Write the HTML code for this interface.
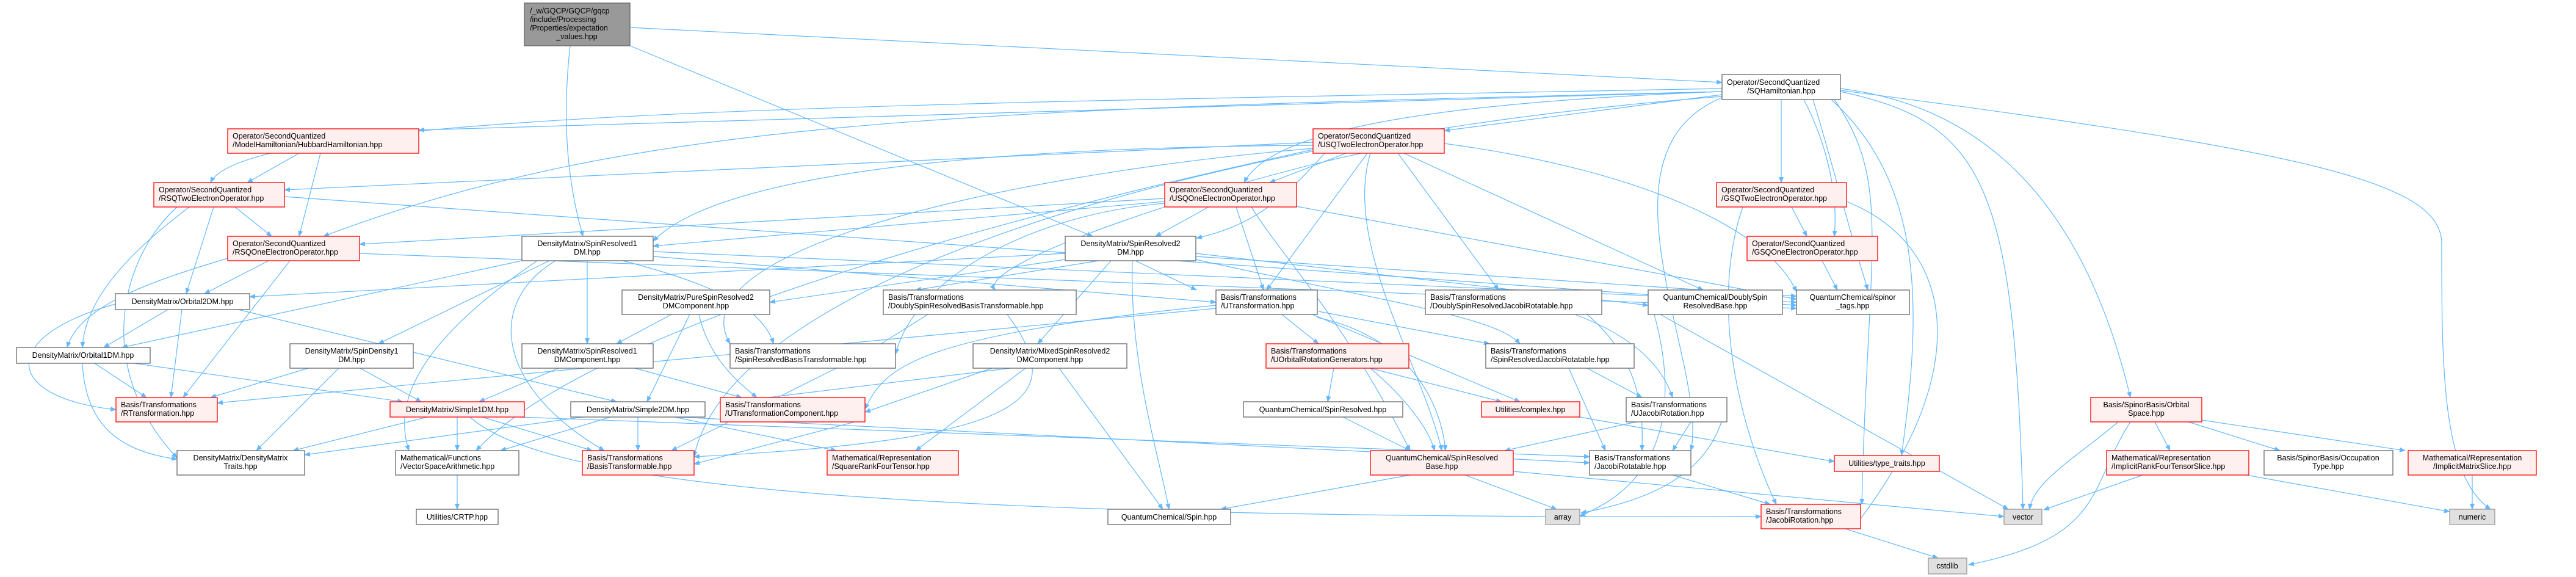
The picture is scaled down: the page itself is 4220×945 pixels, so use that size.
<!DOCTYPE html>
<html><head><meta charset="utf-8"><style>
html,body{margin:0;padding:0;background:#fff;}
svg{display:block;}
text{font-family:"Liberation Sans",sans-serif;font-size:12.5px;fill:#000;}
.n{fill:#fff;stroke:#666;stroke-width:1.3;}
.r{fill:#fff0f0;stroke:#f00;stroke-width:1.3;}
.g{fill:#e0e0e0;stroke:#999;stroke-width:1.3;}
.e{fill:none;stroke:#63b8ff;stroke-width:1.2;marker-end:url(#a);}
</style></head><body>
<svg width="4220" height="945" viewBox="0 0 4220 945" xmlns="http://www.w3.org/2000/svg">
<defs><marker id="a" markerWidth="10" markerHeight="8" refX="9" refY="4" orient="auto" markerUnits="userSpaceOnUse"><path d="M0,0 L10,4 L0,8 z" fill="#63b8ff"/></marker></defs>
<g>
<path class="e" d="M1032,45 L2821,135"/>
<path class="e" d="M934,75 C920,200 930,300 955,387"/>
<path class="e" d="M1032,75 L1790,387"/>
<path class="e" d="M2821,150 L686,213"/>
<path class="e" d="M2821,145 C1500,170 400,180 345,299"/>
<path class="e" d="M2821,150 C1600,180 1050,190 530,387"/>
<path class="e" d="M2821,155 L2366,214"/>
<path class="e" d="M2821,150 C2300,170 2080,220 2038,299"/>
<path class="e" d="M2918,163 L2918,299"/>
<path class="e" d="M2955,163 C3000,250 3010,330 3005,387"/>
<path class="e" d="M2970,163 C3000,260 3030,380 3060,475"/>
<path class="e" d="M3015,145 C3300,180 3430,400 3490,651"/>
<path class="e" d="M3000,163 C3150,300 3150,500 3115,746"/>
<path class="e" d="M3005,163 C3100,300 3060,400 3050,826"/>
<path class="e" d="M3015,150 C3250,200 3300,300 3314,834"/>
<path class="e" d="M3015,148 C3800,250 4000,300 4000,400 C4000,600 4000,780 4080,834"/>
<path class="e" d="M2821,160 C2600,250 2800,600 2770,738"/>
<path class="e" d="M2821,158 C2000,220 1200,450 1137,748"/>
<path class="e" d="M490,251 L405,299"/>
<path class="e" d="M525,251 L490,387"/>
<path class="e" d="M385,339 L445,387"/>
<path class="e" d="M350,339 L305,481"/>
<path class="e" d="M310,339 C230,400 140,480 135,569"/>
<path class="e" d="M290,339 C200,420 150,600 290,750"/>
<path class="e" d="M466,322 L2943,500"/>
<path class="e" d="M440,427 L335,481"/>
<path class="e" d="M373,423 C250,460 130,500 110,569"/>
<path class="e" d="M475,427 L300,651"/>
<path class="e" d="M589,415 L2943,505"/>
<path class="e" d="M855,427 L200,569"/>
<path class="e" d="M900,427 L620,563"/>
<path class="e" d="M962,427 L962,563"/>
<path class="e" d="M1020,427 C1150,460 1250,500 1267,563"/>
<path class="e" d="M1070,420 L1992,495"/>
<path class="e" d="M880,427 C700,550 640,650 670,738"/>
<path class="e" d="M910,427 C790,500 820,640 990,738"/>
<path class="e" d="M1070,412 L2943,495"/>
<path class="e" d="M2151,238 C1800,240 1200,260 1070,395"/>
<path class="e" d="M2205,251 L2080,299"/>
<path class="e" d="M2170,251 C2100,330 2050,370 1960,390"/>
<path class="e" d="M2151,233 L466,311"/>
<path class="e" d="M2240,251 L2075,475"/>
<path class="e" d="M2230,251 C2000,300 1600,430 1630,475"/>
<path class="e" d="M2290,251 L2455,475"/>
<path class="e" d="M2300,251 L2790,475"/>
<path class="e" d="M2366,235 C2700,280 2900,380 2943,478"/>
<path class="e" d="M2245,251 C2200,400 2330,600 2362,738"/>
<path class="e" d="M2151,243 C1700,280 1100,400 1196,563"/>
<path class="e" d="M2151,245 C1900,300 1000,500 780,738"/>
<path class="e" d="M1908,330 L1070,403"/>
<path class="e" d="M1908,325 L589,400"/>
<path class="e" d="M1980,339 L1893,387"/>
<path class="e" d="M2025,339 L2070,475"/>
<path class="e" d="M2050,339 C2100,420 2200,520 2310,738"/>
<path class="e" d="M2124,338 L2943,490"/>
<path class="e" d="M1908,333 C1700,350 1500,450 1467,580"/>
<path class="e" d="M1800,427 L1500,475"/>
<path class="e" d="M1860,427 L1960,475"/>
<path class="e" d="M1745,415 L409,486"/>
<path class="e" d="M1820,427 L1700,563"/>
<path class="e" d="M1745,425 L1261,495"/>
<path class="e" d="M1855,427 C1850,600 1900,750 1915,834"/>
<path class="e" d="M1959,415 L2700,500"/>
<path class="e" d="M1959,420 L2943,485"/>
<path class="e" d="M1959,425 C2300,500 2450,520 2490,563"/>
<path class="e" d="M2855,339 C2800,500 2850,700 2910,826"/>
<path class="e" d="M2935,339 L2960,387"/>
<path class="e" d="M3025,330 C3200,400 3240,600 3040,860"/>
<path class="e" d="M2985,427 L3010,475"/>
<path class="e" d="M275,507 L170,569"/>
<path class="e" d="M298,507 L280,651"/>
<path class="e" d="M189,498 C0,550 0,650 190,671"/>
<path class="e" d="M390,507 L1010,658"/>
<path class="e" d="M1100,515 L1010,563"/>
<path class="e" d="M1130,515 L1060,658"/>
<path class="e" d="M1145,515 C1160,580 1200,620 1240,651"/>
<path class="e" d="M2100,515 L2160,563"/>
<path class="e" d="M2160,510 L2440,563"/>
<path class="e" d="M1992,505 L356,660"/>
<path class="e" d="M1992,500 C1500,550 1450,600 1417,670"/>
<path class="e" d="M2158,520 C2300,550 2360,650 2368,738"/>
<path class="e" d="M2150,515 L2490,658"/>
<path class="e" d="M1520,515 L1400,590"/>
<path class="e" d="M1650,515 C1750,650 1700,720 1137,748"/>
<path class="e" d="M2580,515 C2700,560 2730,620 2740,651"/>
<path class="e" d="M2600,515 C2700,600 2690,700 2690,738"/>
<path class="e" d="M2720,515 L3290,834"/>
<path class="e" d="M2710,515 C2760,700 2700,800 2588,845"/>
<path class="e" d="M155,595 L240,651"/>
<path class="e" d="M135,595 C140,700 200,740 290,752"/>
<path class="e" d="M220,595 L660,658"/>
<path class="e" d="M505,603 L345,651"/>
<path class="e" d="M590,603 L690,658"/>
<path class="e" d="M555,603 L420,738"/>
<path class="e" d="M915,603 L785,658"/>
<path class="e" d="M1040,603 L1215,651"/>
<path class="e" d="M1370,603 L1100,738"/>
<path class="e" d="M1625,603 L1417,675"/>
<path class="e" d="M1680,603 L1500,738"/>
<path class="e" d="M1655,603 L1200,658"/>
<path class="e" d="M1735,603 L1905,834"/>
<path class="e" d="M2185,603 L2175,658"/>
<path class="e" d="M2245,603 L2460,658"/>
<path class="e" d="M2245,603 C2300,650 2340,700 2350,738"/>
<path class="e" d="M2600,603 L2690,651"/>
<path class="e" d="M2570,603 L2630,738"/>
<path class="e" d="M700,683 L480,738"/>
<path class="e" d="M749,683 L749,738"/>
<path class="e" d="M790,683 L970,738"/>
<path class="e" d="M770,683 C900,800 1500,850 2885,846"/>
<path class="e" d="M850,683 L2604,748"/>
<path class="e" d="M955,683 L499,745"/>
<path class="e" d="M1000,683 L820,738"/>
<path class="e" d="M1045,683 L1045,738"/>
<path class="e" d="M1105,683 L1370,738"/>
<path class="e" d="M1110,683 L2604,758"/>
<path class="e" d="M1400,691 L1137,760"/>
<path class="e" d="M2200,683 L2310,738"/>
<path class="e" d="M2588,683 L3005,756"/>
<path class="e" d="M2680,691 L2465,738"/>
<path class="e" d="M2770,691 L2740,738"/>
<path class="e" d="M2820,691 C2790,780 2700,820 2590,840"/>
<path class="e" d="M3470,691 C3400,750 3330,790 3325,834"/>
<path class="e" d="M3490,691 C3420,800 3450,880 3225,925"/>
<path class="e" d="M3530,691 L3555,738"/>
<path class="e" d="M3585,691 L3735,738"/>
<path class="e" d="M3607,688 L3940,738"/>
<path class="e" d="M2310,778 L2000,834"/>
<path class="e" d="M2400,778 L2550,834"/>
<path class="e" d="M2479,772 L3283,846"/>
<path class="e" d="M2740,778 L2900,826"/>
<path class="e" d="M3510,778 L3348,835"/>
<path class="e" d="M3680,778 L4013,838"/>
<path class="e" d="M4050,778 L4050,834"/>
<path class="e" d="M749,778 L749,834"/>
<path class="e" d="M3023,866 L3175,914"/>
</g>
<g>
<rect x="859" y="5" width="173" height="70" fill="#999" stroke="#666" stroke-width="1.3"/>
<text x="868" y="22">/_w/GQCP/GQCP/gqcp</text><text x="868" y="36">/include/Processing</text><text x="868" y="50">/Properties/expectation</text><text x="945" y="64" text-anchor="middle">_values.hpp</text>

<rect class="n" x="2821" y="122" width="194" height="41"/><text x="2829" y="139">Operator/SecondQuantized</text><text x="2918" y="153" text-anchor="middle">/SQHamiltonian.hpp</text>
<rect class="r" x="373" y="211" width="313" height="40"/><text x="381" y="227">Operator/SecondQuantized</text><text x="381" y="241">/ModelHamiltonian/HubbardHamiltonian.hpp</text>
<rect class="r" x="252" y="299" width="214" height="40"/><text x="260" y="315">Operator/SecondQuantized</text><text x="260" y="329">/RSQTwoElectronOperator.hpp</text>
<rect class="r" x="373" y="387" width="216" height="40"/><text x="381" y="403">Operator/SecondQuantized</text><text x="381" y="417">/RSQOneElectronOperator.hpp</text>
<rect class="n" x="855" y="387" width="215" height="40"/><text x="962" y="403" text-anchor="middle">DensityMatrix/SpinResolved1</text><text x="962" y="417" text-anchor="middle">DM.hpp</text>
<rect class="r" x="2151" y="211" width="215" height="40"/><text x="2159" y="227">Operator/SecondQuantized</text><text x="2159" y="241">/USQTwoElectronOperator.hpp</text>
<rect class="r" x="1908" y="299" width="216" height="40"/><text x="1916" y="315">Operator/SecondQuantized</text><text x="1916" y="329">/USQOneElectronOperator.hpp</text>
<rect class="n" x="1745" y="387" width="214" height="40"/><text x="1852" y="403" text-anchor="middle">DensityMatrix/SpinResolved2</text><text x="1852" y="417" text-anchor="middle">DM.hpp</text>
<rect class="r" x="2812" y="299" width="213" height="40"/><text x="2820" y="315">Operator/SecondQuantized</text><text x="2820" y="329">/GSQTwoElectronOperator.hpp</text>
<rect class="r" x="2862" y="387" width="214" height="40"/><text x="2870" y="403">Operator/SecondQuantized</text><text x="2870" y="417">/GSQOneElectronOperator.hpp</text>

<rect class="n" x="189" y="481" width="220" height="26"/><text x="299" y="498" text-anchor="middle">DensityMatrix/Orbital2DM.hpp</text>
<rect class="n" x="1019" y="475" width="242" height="40"/><text x="1140" y="491" text-anchor="middle">DensityMatrix/PureSpinResolved2</text><text x="1140" y="505" text-anchor="middle">DMComponent.hpp</text>
<rect class="n" x="1447" y="475" width="316" height="40"/><text x="1455" y="491">Basis/Transformations</text><text x="1455" y="505">/DoublySpinResolvedBasisTransformable.hpp</text>
<rect class="n" x="1992" y="475" width="166" height="40"/><text x="2000" y="491">Basis/Transformations</text><text x="2000" y="505">/UTransformation.hpp</text>
<rect class="n" x="2335" y="475" width="289" height="40"/><text x="2343" y="491">Basis/Transformations</text><text x="2343" y="505">/DoublySpinResolvedJacobiRotatable.hpp</text>
<rect class="n" x="2700" y="475" width="220" height="40"/><text x="2810" y="491" text-anchor="middle">QuantumChemical/DoublySpin</text><text x="2810" y="505" text-anchor="middle">ResolvedBase.hpp</text>
<rect class="n" x="2943" y="475" width="185" height="40"/><text x="3035" y="491" text-anchor="middle">QuantumChemical/spinor</text><text x="3035" y="505" text-anchor="middle">_tags.hpp</text>

<rect class="n" x="27" y="569" width="219" height="26"/><text x="136" y="586" text-anchor="middle">DensityMatrix/Orbital1DM.hpp</text>
<rect class="n" x="475" y="563" width="202" height="40"/><text x="576" y="579" text-anchor="middle">DensityMatrix/SpinDensity1</text><text x="576" y="593" text-anchor="middle">DM.hpp</text>
<rect class="n" x="855" y="563" width="215" height="40"/><text x="962" y="579" text-anchor="middle">DensityMatrix/SpinResolved1</text><text x="962" y="593" text-anchor="middle">DMComponent.hpp</text>
<rect class="n" x="1196" y="563" width="271" height="40"/><text x="1204" y="579">Basis/Transformations</text><text x="1204" y="593">/SpinResolvedBasisTransformable.hpp</text>
<rect class="n" x="1594" y="563" width="252" height="40"/><text x="1720" y="579" text-anchor="middle">DensityMatrix/MixedSpinResolved2</text><text x="1720" y="593" text-anchor="middle">DMComponent.hpp</text>
<rect class="r" x="2074" y="563" width="234" height="40"/><text x="2082" y="579">Basis/Transformations</text><text x="2082" y="593">/UOrbitalRotationGenerators.hpp</text>
<rect class="n" x="2434" y="563" width="243" height="40"/><text x="2442" y="579">Basis/Transformations</text><text x="2442" y="593">/SpinResolvedJacobiRotatable.hpp</text>

<rect class="r" x="190" y="651" width="166" height="40"/><text x="198" y="667">Basis/Transformations</text><text x="198" y="681">/RTransformation.hpp</text>
<rect class="r" x="639" y="658" width="220" height="25"/><text x="749" y="675" text-anchor="middle">DensityMatrix/Simple1DM.hpp</text>
<rect class="n" x="935" y="658" width="220" height="25"/><text x="1045" y="675" text-anchor="middle">DensityMatrix/Simple2DM.hpp</text>
<rect class="r" x="1180" y="651" width="237" height="40"/><text x="1188" y="667">Basis/Transformations</text><text x="1188" y="681">/UTransformationComponent.hpp</text>
<rect class="n" x="2037" y="658" width="261" height="25"/><text x="2167" y="675" text-anchor="middle">QuantumChemical/SpinResolved.hpp</text>
<rect class="r" x="2427" y="658" width="161" height="25"/><text x="2507" y="675" text-anchor="middle">Utilities/complex.hpp</text>
<rect class="n" x="2664" y="651" width="165" height="40"/><text x="2672" y="667">Basis/Transformations</text><text x="2672" y="681">/UJacobiRotation.hpp</text>
<rect class="r" x="3425" y="651" width="182" height="40"/><text x="3516" y="667" text-anchor="middle">Basis/SpinorBasis/Orbital</text><text x="3516" y="681" text-anchor="middle">Space.hpp</text>

<rect class="n" x="290" y="738" width="209" height="40"/><text x="394" y="754" text-anchor="middle">DensityMatrix/DensityMatrix</text><text x="394" y="768" text-anchor="middle">Traits.hpp</text>
<rect class="n" x="648" y="738" width="202" height="40"/><text x="656" y="754">Mathematical/Functions</text><text x="656" y="768">/VectorSpaceArithmetic.hpp</text>
<rect class="r" x="954" y="738" width="183" height="40"/><text x="962" y="754">Basis/Transformations</text><text x="962" y="768">/BasisTransformable.hpp</text>
<rect class="r" x="1355" y="738" width="215" height="40"/><text x="1363" y="754">Mathematical/Representation</text><text x="1363" y="768">/SquareRankFourTensor.hpp</text>
<rect class="r" x="2245" y="738" width="234" height="40"/><text x="2362" y="754" text-anchor="middle">QuantumChemical/SpinResolved</text><text x="2362" y="768" text-anchor="middle">Base.hpp</text>
<rect class="n" x="2604" y="738" width="166" height="40"/><text x="2612" y="754">Basis/Transformations</text><text x="2612" y="768">/JacobiRotatable.hpp</text>
<rect class="r" x="3005" y="746" width="172" height="26"/><text x="3091" y="763" text-anchor="middle">Utilities/type_traits.hpp</text>
<rect class="r" x="3451" y="738" width="233" height="40"/><text x="3459" y="754">Mathematical/Representation</text><text x="3459" y="768">/ImplicitRankFourTensorSlice.hpp</text>
<rect class="n" x="3709" y="738" width="211" height="40"/><text x="3814" y="754" text-anchor="middle">Basis/SpinorBasis/Occupation</text><text x="3814" y="768" text-anchor="middle">Type.hpp</text>
<rect class="r" x="3945" y="738" width="210" height="40"/><text x="4050" y="754" text-anchor="middle">Mathematical/Representation</text><text x="4050" y="768" text-anchor="middle">/ImplicitMatrixSlice.hpp</text>

<rect class="r" x="2885" y="826" width="163" height="40"/><text x="2893" y="842">Basis/Transformations</text><text x="2893" y="856">/JacobiRotation.hpp</text>
<rect class="n" x="682" y="834" width="134" height="25"/><text x="749" y="851" text-anchor="middle">Utilities/CRTP.hpp</text>
<rect class="n" x="1815" y="834" width="201" height="25"/><text x="1915" y="851" text-anchor="middle">QuantumChemical/Spin.hpp</text>
<rect class="g" x="2532" y="834" width="56" height="25"/><text x="2560" y="851" text-anchor="middle">array</text>
<rect class="g" x="3283" y="834" width="62" height="25"/><text x="3314" y="851" text-anchor="middle">vector</text>
<rect class="g" x="4013" y="834" width="74" height="25"/><text x="4050" y="851" text-anchor="middle">numeric</text>
<rect class="g" x="3159" y="914" width="63" height="26"/><text x="3190" y="931" text-anchor="middle">cstdlib</text>
</g>
</svg>
</body></html>
